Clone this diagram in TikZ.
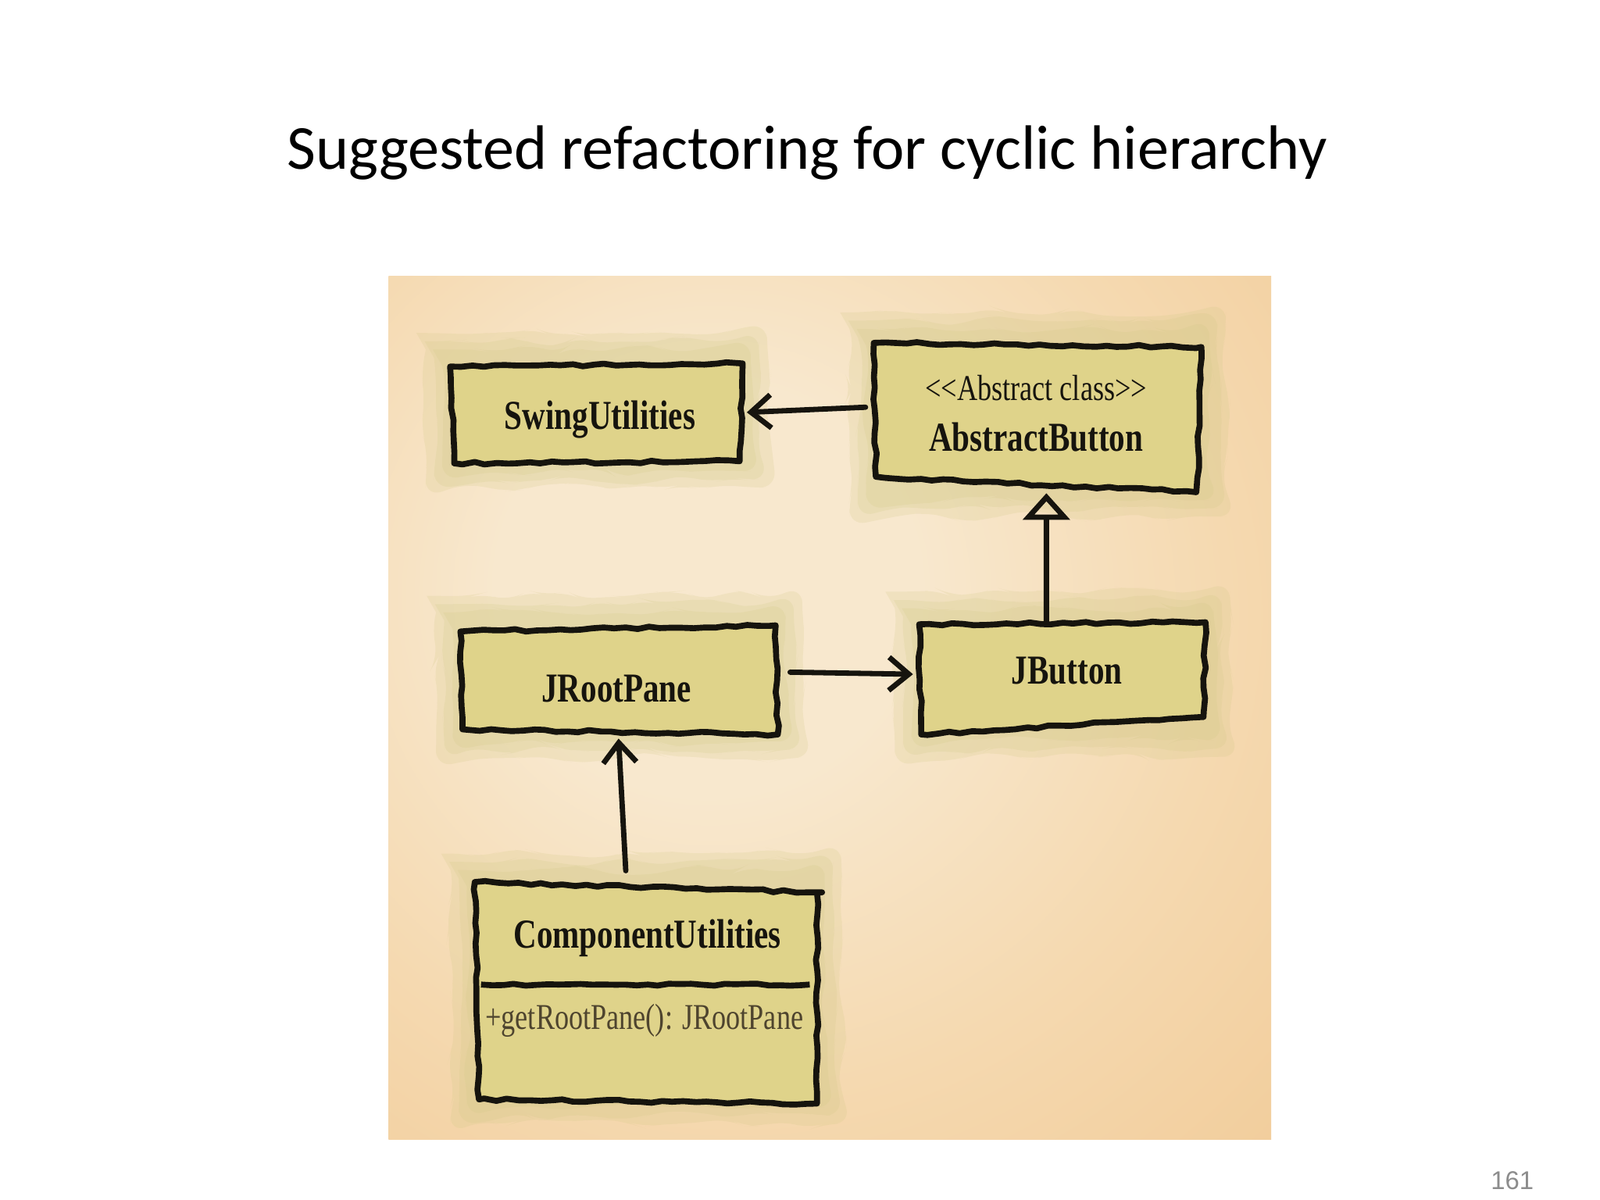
\documentclass[tikz,border=0pt]{standalone}
\usepackage{fontspec}
\setmainfont{Carlito}
\newfontfamily\handfont[FakeStretch=0.78]{Liberation Serif}
\newfontfamily\pagefont{Liberation Sans}
\usetikzlibrary{arrows.meta,decorations.pathmorphing}
\newlength\pxl \setlength\pxl{0.016366cm}
\definecolor{boxfill}{RGB}{223,211,138}
\definecolor{halo}{RGB}{208,200,132}
\definecolor{panelout}{RGB}{241,203,152}
\definecolor{panelmid}{RGB}{245,217,176}
\definecolor{panelin}{RGB}{248,232,206}
\definecolor{ink}{RGB}{22,20,14}
\definecolor{methodink}{RGB}{78,68,46}
\definecolor{pagegray}{RGB}{140,140,140}
\pgfdeclareradialshading{panelshade}{\pgfpoint{-8bp}{8bp}}{%
  color(0bp)=(panelin);color(12bp)=(panelin);color(28bp)=(panelmid);%
  color(45bp)=(panelout);color(90bp)=(panelout)}
\tikzset{
  boxanchor/.style={inner sep=0pt, draw=none},
  outline/.style={draw=ink, fill=boxfill, line width=2.7pt, line join=round,
    decorate, decoration={random steps,segment length=5pt,amplitude=0.6pt}},
  halofill/.style={fill=halo, opacity=0.2, rounded corners=16\pxl,
    decorate, decoration={random steps,segment length=9pt,amplitude=2.5pt}},
  namelabel/.style={font=\handfont\bfseries\fontsize{18.6}{22}\selectfont, text=ink, inner sep=0pt},
  smalllabel/.style={font=\handfont\fontsize{16.4}{19}\selectfont, text=ink, inner sep=0pt},
  methodlabel/.style={font=\handfont\fontsize{16.4}{19}\selectfont, text=methodink, inner sep=0pt},
  dep/.style={draw=ink, line width=2.4pt, line cap=round, -{Straight Barb[length=9pt,width=15pt,line width=2.4pt]}},
  inherit/.style={draw=ink, line width=2.4pt, -{Triangle[open,length=12pt,width=21pt,line width=2.4pt]}},
  sepline/.style={draw=ink, line width=2.7pt,
    decorate, decoration={random steps,segment length=5pt,amplitude=0.5pt}}
}
\begin{document}
\begin{tikzpicture}[x=0.016366cm,y=-0.016366cm]
\useasboundingbox (0,0) rectangle (1552,1164);
\fill[white] (0,0) rectangle (1552,1164);
% title
\node[font=\fontsize{28.3}{34}\selectfont, text=black] (title) at (783,148) {Suggested refactoring for cyclic hierarchy};
% panel
\shade[shading=panelshade] (377,268) rectangle (1233,1105);
% halos
\foreach \e in {8,16,24}{
  \fill[halofill] (437-\e,353-\e-6) rectangle (720+\e,449+\e);
  \fill[halofill] (848-\e,333-\e-6) rectangle (1165+\e,477+\e);
  \fill[halofill] (447-\e,608-\e-6) rectangle (754+\e,711+\e);
  \fill[halofill] (892-\e,604-\e-6) rectangle (1169+\e,710+\e);
  \fill[halofill] (461-\e,858-\e-6) rectangle (792+\e,1066+\e);
}
% box anchors (named nodes)
\node[boxanchor, minimum width=283\pxl, minimum height=96\pxl] (swing) at (578.5,401) {};
\node[boxanchor, minimum width=317\pxl, minimum height=144\pxl] (abs) at (1006.5,405) {};
\node[boxanchor, minimum width=307\pxl, minimum height=103\pxl] (jroot) at (600.5,659.5) {};
\node[boxanchor, minimum width=277\pxl, minimum height=106\pxl] (jbutton) at (1030.5,657) {};
\node[boxanchor, minimum width=331\pxl, minimum height=208\pxl] (comp) at (626.5,962) {};
% hand-drawn outlines of the boxes
\path[outline] ([shift={(0,3)}]swing.north west) -- (swing.north east)
  -- ([shift={(-3,-2)}]swing.south east) -- ([shift={(4,0)}]swing.south west) -- cycle;
\path[outline] (abs.north west) -- ([shift={(0,4)}]abs.north east)
  -- ([shift={(-4,-14)}]abs.south east) -- ([shift={(-5,0)}]abs.south east)
  -- ([shift={(2,-15)}]abs.south west) -- cycle;
\path[outline] ([shift={(0,5)}]jroot.north west) -- ([shift={(-2,-1)}]jroot.north east)
  -- ([shift={(0,1)}]jroot.south east) -- ([shift={(2,-4)}]jroot.south west) -- cycle;
\path[outline] ([shift={(0,2)}]jbutton.north west) -- (jbutton.north east)
  -- ([shift={(-2,-15)}]jbutton.south east) -- ([shift={(2,2)}]jbutton.south west) -- cycle;
\path[outline] ([shift={(0,-2)}]comp.north west) -- ([shift={(5,8)}]comp.north east)
  -- ([shift={(0,8)}]comp.north east) -- ([shift={(0,-8)}]comp.south east)
  -- ([shift={(0,4)}]comp.south east) -- ([shift={(4,0)}]comp.south west) -- cycle;
% labels
\node[namelabel] (swingtxt) at (582,407) {SwingUtilities};
\node[smalllabel] (abststereo) at (1005,376) {<<Abstract class>>};
\node[namelabel] (abstxt) at (1005,424) {AbstractButton};
\node[namelabel] (jroottxt) at (598,668) {JRootPane};
\node[namelabel] (jbuttontxt) at (1035,651) {JButton};
\node[namelabel] (comptxt) at (628,910) {ComponentUtilities};
\node[methodlabel] (comptmeth) at (625,990) {+getRootPane(): JRootPane};
% compartment separator
\path[sepline] ([shift={(6,-7)}]comp.west) -- ([shift={(-7,-7)}]comp.east);
% connectors
\draw[dep] ([shift={(-8,-10)}]abs.west) -- ([shift={(4,-1)}]swing.east);
\draw[inherit] ([shift={(-15.5,0)}]jbutton.north) -- ([shift={(8.5,1)}]abs.south);
\draw[dep] ([shift={(12,-7.5)}]jroot.east) -- ([shift={(-6,-3)}]jbutton.west);
\draw[dep] ([shift={(-19.5,-13)}]comp.north) -- ([shift={(-0.5,5)}]jroot.south);
% page number
\node[font=\pagefont\fontsize{11.6}{14}\selectfont, text=pagegray] (pagenum) at (1467,1145) {161};
\end{tikzpicture}
\end{document}
